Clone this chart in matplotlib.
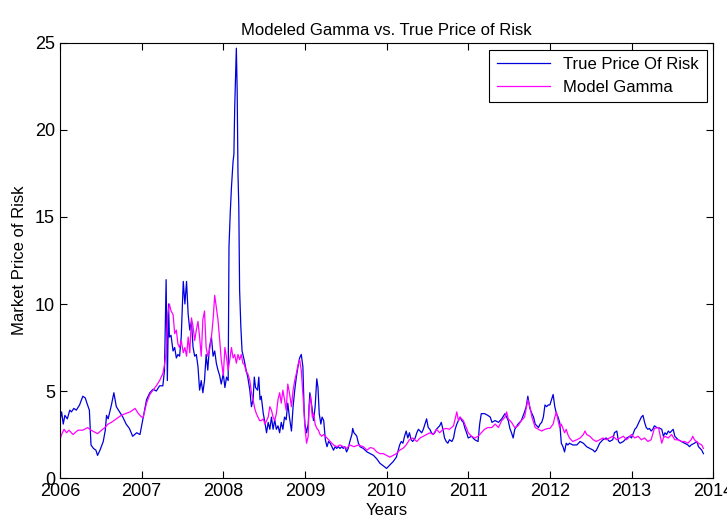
import matplotlib
matplotlib.use("Agg")
import matplotlib.pyplot as plt

# True price of risk (years, values)
true_years = [
    2006.00, 2006.02, 2006.04, 2006.06, 2006.09, 2006.12, 2006.14, 2006.17, 2006.20, 2006.24,
    2006.28, 2006.31, 2006.33, 2006.36, 2006.38, 2006.41, 2006.44, 2006.46, 2006.49, 2006.53,
    2006.555, 2006.57, 2006.59, 2006.61, 2006.63, 2006.66, 2006.69, 2006.73, 2006.77, 2006.81,
    2006.85, 2006.89, 2006.94, 2006.98, 2007.02, 2007.06, 2007.10, 2007.14, 2007.18, 2007.22,
    2007.26, 2007.28, 2007.30, 2007.315, 2007.33, 2007.34, 2007.36, 2007.385, 2007.405, 2007.425,
    2007.445, 2007.465, 2007.485, 2007.51, 2007.53, 2007.55, 2007.57, 2007.59, 2007.61, 2007.63,
    2007.65, 2007.67, 2007.69, 2007.71, 2007.73, 2007.75, 2007.77, 2007.79, 2007.81, 2007.83,
    2007.855, 2007.875, 2007.895, 2007.915, 2007.935, 2007.955, 2007.975, 2008.00, 2008.02, 2008.04,
    2008.06, 2008.07, 2008.085, 2008.10, 2008.12, 2008.13, 2008.14, 2008.16, 2008.17, 2008.18,
    2008.19, 2008.20, 2008.215, 2008.23, 2008.255, 2008.28, 2008.30, 2008.325, 2008.345, 2008.365,
    2008.38, 2008.395, 2008.42, 2008.435, 2008.45, 2008.465, 2008.49, 2008.51, 2008.53, 2008.55,
    2008.57, 2008.59, 2008.61, 2008.63, 2008.65, 2008.67, 2008.69, 2008.71, 2008.73, 2008.75,
    2008.77, 2008.79, 2008.81, 2008.835, 2008.855, 2008.875, 2008.895, 2008.915, 2008.935, 2008.955,
    2008.975, 2008.99, 2009.00, 2009.02, 2009.04, 2009.06, 2009.085, 2009.105, 2009.125, 2009.145,
    2009.16, 2009.175, 2009.195, 2009.21, 2009.23, 2009.25, 2009.27, 2009.29, 2009.31, 2009.33,
    2009.35, 2009.37, 2009.39, 2009.41, 2009.43, 2009.45, 2009.47, 2009.49, 2009.51, 2009.53,
    2009.55, 2009.575, 2009.585, 2009.60, 2009.62, 2009.635, 2009.655, 2009.675, 2009.715, 2009.76,
    2009.80, 2009.84, 2009.88, 2009.92, 2009.96, 2010.00, 2010.04, 2010.08, 2010.12, 2010.16,
    2010.18, 2010.20, 2010.22, 2010.24, 2010.26, 2010.28, 2010.30, 2010.32, 2010.35, 2010.37,
    2010.39, 2010.41, 2010.43, 2010.45, 2010.47, 2010.49, 2010.51, 2010.53, 2010.55, 2010.57,
    2010.59, 2010.61, 2010.63, 2010.65, 2010.67, 2010.69, 2010.71, 2010.73, 2010.75, 2010.77,
    2010.80, 2010.82, 2010.84, 2010.86, 2010.88, 2010.90, 2010.92, 2010.94, 2010.96, 2010.98,
    2011.00, 2011.04, 2011.08, 2011.12, 2011.14, 2011.16, 2011.20, 2011.24, 2011.27, 2011.29,
    2011.33, 2011.37, 2011.41, 2011.45, 2011.49, 2011.51, 2011.53, 2011.55, 2011.57, 2011.61,
    2011.65, 2011.69, 2011.71, 2011.73, 2011.755, 2011.78, 2011.80, 2011.82, 2011.84, 2011.86,
    2011.88, 2011.90, 2011.92, 2011.94, 2011.96, 2011.98, 2012.00, 2012.02, 2012.04, 2012.06,
    2012.08, 2012.10, 2012.12, 2012.14, 2012.16, 2012.18, 2012.20, 2012.22, 2012.24, 2012.28,
    2012.33, 2012.37, 2012.41, 2012.45, 2012.49, 2012.53, 2012.55, 2012.57, 2012.59, 2012.61,
    2012.65, 2012.69, 2012.73, 2012.77, 2012.79, 2012.82, 2012.84, 2012.86, 2012.90, 2012.94,
    2012.98, 2013.00, 2013.04, 2013.06, 2013.08, 2013.10, 2013.12, 2013.14, 2013.16, 2013.18,
    2013.20, 2013.22, 2013.24, 2013.26, 2013.28, 2013.31, 2013.33, 2013.35, 2013.37, 2013.39,
    2013.41, 2013.43, 2013.45, 2013.47, 2013.49, 2013.51, 2013.53, 2013.55, 2013.57, 2013.61,
    2013.65, 2013.69, 2013.71, 2013.73, 2013.77, 2013.80, 2013.82, 2013.84, 2013.86, 2013.88,
]
true_vals = [
    3.3, 3.8, 3.1, 3.6, 3.4, 3.9, 3.8, 4.0, 3.9, 4.2,
    4.7, 4.6, 4.3, 3.9, 1.9, 1.7, 1.6, 1.3, 1.6, 2.1,
    2.75, 3.6, 3.4, 3.8, 4.2, 4.9, 4.1, 3.8, 3.5, 3.1,
    2.85, 2.4, 2.6, 2.5, 3.5, 4.5, 4.9, 5.1, 5.0, 5.3,
    5.3, 6.2, 11.4, 5.6, 10.0, 8.1, 8.2, 7.3, 7.5, 6.9,
    7.1, 7.0, 8.1, 11.3, 10.0, 11.3, 9.4, 8.5, 9.0, 7.5,
    7.0, 7.1, 6.4, 5.05, 5.6, 4.9, 5.6, 7.1, 6.2, 7.5,
    8.1, 7.0, 7.3, 6.6, 6.2, 5.9, 5.4, 6.0, 5.2, 5.8,
    5.6, 13.3, 15.2, 16.7, 18.2, 18.6, 21.3, 24.7, 22.3, 17.5,
    15.6, 10.8, 8.7, 7.3, 6.8, 6.2, 5.8, 5.05, 4.1, 4.5,
    5.8, 5.2, 5.05, 5.8, 4.5, 4.7, 3.7, 3.2, 2.6, 3.2,
    2.8, 3.5, 2.8, 3.35, 2.8, 3.0, 2.6, 3.2, 2.8, 3.5,
    3.35, 4.3, 3.5, 2.7, 4.1, 5.05, 5.8, 6.4, 6.9, 7.1,
    6.4, 3.9, 3.1, 2.6, 3.1, 4.9, 4.1, 3.3, 4.1, 5.7,
    5.2, 3.7, 3.1, 3.5, 3.3, 2.2, 1.8, 2.1, 2.0, 1.8,
    1.6, 1.8, 1.7, 1.8, 1.7, 1.8, 1.7, 1.8, 1.5, 1.7,
    2.1, 2.5, 2.85, 2.6, 2.5, 2.4, 2.0, 1.8, 1.7, 1.5,
    1.4, 1.3, 1.1, 0.84, 0.7, 0.55, 0.75, 0.94, 1.2, 1.9,
    2.1, 2.0, 2.4, 2.7, 2.3, 2.6, 2.2, 2.1, 2.3, 2.6,
    2.8, 2.7, 2.6, 2.8, 3.1, 3.4, 2.9, 2.8, 2.6, 2.5,
    2.6, 2.8, 2.9, 3.0, 3.2, 2.8, 2.3, 2.1, 2.0, 2.2,
    2.1, 2.3, 2.8, 3.1, 3.3, 3.5, 3.3, 3.2, 2.85, 2.6,
    2.3, 2.4, 2.2, 2.1, 3.1, 3.7, 3.7, 3.6, 3.5, 3.2,
    3.3, 3.2, 3.4, 3.7, 3.3, 2.85, 2.6, 2.3, 2.8, 3.1,
    3.3, 3.8, 4.1, 4.7, 4.0, 3.7, 3.5, 3.1, 3.0, 2.9,
    3.1, 3.2, 3.5, 4.2, 4.1, 4.2, 4.2, 4.5, 4.8, 4.1,
    3.7, 3.5, 3.2, 2.0, 1.8, 1.5, 2.0, 1.9, 2.0, 1.9,
    1.9, 2.1, 2.0, 1.8, 1.7, 1.6, 1.5, 1.6, 1.8, 2.0,
    2.2, 2.3, 2.1, 2.2, 2.6, 2.7, 2.1, 2.0, 2.1, 2.3,
    2.4, 2.3, 2.8, 2.9, 3.1, 3.3, 3.5, 3.6, 3.2, 2.9,
    2.8, 2.85, 2.7, 2.8, 3.0, 2.9, 2.9, 2.85, 2.8, 2.4,
    2.6, 2.5, 2.7, 2.6, 2.7, 2.8, 2.4, 2.3, 2.2, 2.1,
    2.0, 1.9, 1.8, 1.9, 2.0, 2.1, 1.8, 1.7, 1.6, 1.4,
]

# Model gamma (years, values)
model_years = [
    2006.00, 2006.02, 2006.05, 2006.08, 2006.11, 2006.16, 2006.22, 2006.28, 2006.34, 2006.38,
    2006.42, 2006.46, 2006.51, 2006.55, 2006.59, 2006.63, 2006.69, 2006.75, 2006.80, 2006.86,
    2006.92, 2006.96, 2007.00, 2007.02, 2007.06, 2007.10, 2007.14, 2007.18, 2007.22, 2007.26,
    2007.28, 2007.30, 2007.32, 2007.34, 2007.36, 2007.385, 2007.405, 2007.425, 2007.445, 2007.465,
    2007.485, 2007.51, 2007.53, 2007.55, 2007.57, 2007.59, 2007.61, 2007.63, 2007.65, 2007.67,
    2007.69, 2007.71, 2007.73, 2007.75, 2007.77, 2007.79, 2007.81, 2007.83, 2007.855, 2007.875,
    2007.895, 2007.915, 2007.935, 2007.955, 2007.975, 2008.00, 2008.02, 2008.04, 2008.06, 2008.08,
    2008.10, 2008.12, 2008.14, 2008.16, 2008.18, 2008.20, 2008.22, 2008.24, 2008.26, 2008.28,
    2008.30, 2008.325, 2008.345, 2008.365, 2008.385, 2008.405, 2008.425, 2008.445, 2008.465, 2008.49,
    2008.51, 2008.53, 2008.55, 2008.57, 2008.59, 2008.61, 2008.63, 2008.65, 2008.67, 2008.69,
    2008.71, 2008.73, 2008.75, 2008.77, 2008.79, 2008.81, 2008.835, 2008.855, 2008.875, 2008.895,
    2008.915, 2008.935, 2008.955, 2008.98, 2009.00, 2009.02, 2009.04, 2009.05, 2009.07, 2009.09,
    2009.105, 2009.125, 2009.145, 2009.165, 2009.185, 2009.205, 2009.23, 2009.25, 2009.27, 2009.29,
    2009.31, 2009.35, 2009.39, 2009.43, 2009.47, 2009.51, 2009.55, 2009.60, 2009.655, 2009.715,
    2009.76, 2009.80, 2009.84, 2009.88, 2009.92, 2009.96, 2010.00, 2010.04, 2010.08, 2010.12,
    2010.16, 2010.20, 2010.24, 2010.28, 2010.32, 2010.37, 2010.41, 2010.45, 2010.49, 2010.53,
    2010.57, 2010.61, 2010.65, 2010.69, 2010.73, 2010.77, 2010.82, 2010.86, 2010.88, 2010.90,
    2010.94, 2010.98, 2011.00, 2011.04, 2011.08, 2011.12, 2011.16, 2011.20, 2011.24, 2011.29,
    2011.33, 2011.37, 2011.41, 2011.45, 2011.47, 2011.49, 2011.53, 2011.57, 2011.61, 2011.65,
    2011.69, 2011.73, 2011.755, 2011.78, 2011.82, 2011.86, 2011.90, 2011.94, 2011.98, 2012.00,
    2012.04, 2012.06, 2012.08, 2012.10, 2012.12, 2012.14, 2012.16, 2012.18, 2012.20, 2012.22,
    2012.24, 2012.28, 2012.33, 2012.37, 2012.41, 2012.43, 2012.45, 2012.49, 2012.53, 2012.57,
    2012.61, 2012.65, 2012.69, 2012.73, 2012.77, 2012.82, 2012.86, 2012.90, 2012.94, 2012.98,
    2013.00, 2013.04, 2013.08, 2013.12, 2013.16, 2013.20, 2013.24, 2013.28, 2013.33, 2013.37,
    2013.39, 2013.41, 2013.45, 2013.49, 2013.53, 2013.57, 2013.61, 2013.65, 2013.69, 2013.73,
    2013.75, 2013.77, 2013.82, 2013.86, 2013.88,
]
model_vals = [
    2.2, 2.5, 2.8, 2.6, 2.75, 2.5, 2.75, 2.75, 2.9, 2.75,
    2.65, 2.55, 2.75, 2.9, 3.1, 3.2, 3.4, 3.6, 3.7, 3.8,
    4.0, 3.7, 3.5, 3.5, 4.3, 4.8, 5.05, 5.3, 5.6, 6.0,
    6.5, 7.2, 9.4, 10.0, 9.6, 9.4, 8.3, 8.5, 7.7, 7.5,
    7.9, 7.2, 7.5, 7.0, 8.1, 7.2, 9.2, 8.7, 7.9, 8.5,
    9.0, 8.1, 7.0, 9.1, 9.6, 7.5, 7.0, 7.3, 8.1, 9.1,
    10.5, 9.8, 9.1, 8.0, 6.8, 5.9, 7.5, 6.9, 6.2, 6.8,
    7.5, 6.9, 7.1, 6.6, 7.1, 6.8, 7.1, 6.6, 6.5, 6.1,
    6.0, 5.6, 4.9, 4.5, 4.0, 3.7, 3.5, 3.3, 3.3, 3.4,
    3.1, 3.3, 3.5, 4.1, 3.9, 3.5, 3.3, 3.7, 4.5, 4.9,
    4.3, 5.05, 4.5, 3.9, 5.4, 4.9, 4.1, 5.05, 5.6, 6.0,
    6.5, 6.8, 6.2, 4.5, 2.9, 2.0, 2.4, 4.1, 4.7, 3.5,
    3.7, 3.1, 2.85, 2.75, 2.5, 2.4, 2.5, 2.4, 2.3, 2.2,
    2.1, 1.9, 1.8, 1.9, 1.8, 1.7, 1.9, 1.8, 1.9, 1.8,
    1.6, 1.75, 1.7, 1.5, 1.4, 1.4, 1.3, 1.2, 1.3, 1.4,
    1.6, 1.7, 1.9, 2.2, 2.3, 2.1, 2.3, 2.4, 2.5, 2.6,
    2.5, 2.8, 2.6, 2.8, 2.85, 2.8, 3.0, 3.8, 3.3, 3.5,
    3.3, 2.85, 2.6, 2.4, 2.3, 2.4, 2.6, 2.8, 2.9, 2.9,
    3.1, 2.9, 3.3, 3.5, 3.8, 3.4, 3.2, 2.9, 3.0, 3.3,
    3.5, 4.5, 4.1, 3.5, 2.9, 2.8, 2.7, 2.8, 2.85, 2.85,
    3.1, 3.5, 3.8, 3.3, 2.9, 3.1, 2.85, 2.6, 2.8, 2.5,
    2.3, 2.1, 2.2, 2.3, 2.5, 2.7, 2.5, 2.4, 2.2, 2.1,
    2.2, 2.3, 2.2, 2.3, 2.4, 2.2, 2.3, 2.4, 2.2, 2.4,
    2.5, 2.3, 2.4, 2.2, 2.3, 2.1, 2.2, 2.85, 2.9, 2.0,
    2.3, 2.4, 2.3, 2.5, 2.2, 2.2, 2.1, 2.1, 2.0, 2.2,
    2.4, 2.2, 2.0, 1.9, 1.7,
]

plt.rcParams['font.family'] = ['Liberation Sans', 'DejaVu Sans']

fig = plt.figure(figsize=(7.27, 5.21), dpi=100)
ax = fig.add_axes([0.0825, 0.0825, 0.8985, 0.835])

ax.plot(true_years, true_vals, color='#0000dd', linewidth=0.9, label='True Price Of Risk')
ax.plot(model_years, model_vals, color='#ff00ff', linewidth=0.9, label='Model Gamma')

ax.set_xlim(2006, 2014)
ax.set_ylim(0, 25)
ax.set_xticks(range(2006, 2015))
ax.set_yticks([0, 5, 10, 15, 20, 25])
ax.tick_params(direction='in', top=True, right=True, labelsize=13, length=5)

ax.set_title('Modeled Gamma vs. True Price of Risk', fontsize=12)
ax.set_xlabel('Years', fontsize=12, labelpad=2)
ax.set_ylabel('Market Price of Risk', fontsize=12, labelpad=6)

leg = ax.legend(loc='upper right', fontsize=12, fancybox=False, framealpha=1,
                edgecolor='black', borderaxespad=0.4, handlelength=3.2,
                borderpad=0.45, labelspacing=0.45)
leg.get_frame().set_linewidth(0.8)

plt.savefig('out.png', dpi=100)
